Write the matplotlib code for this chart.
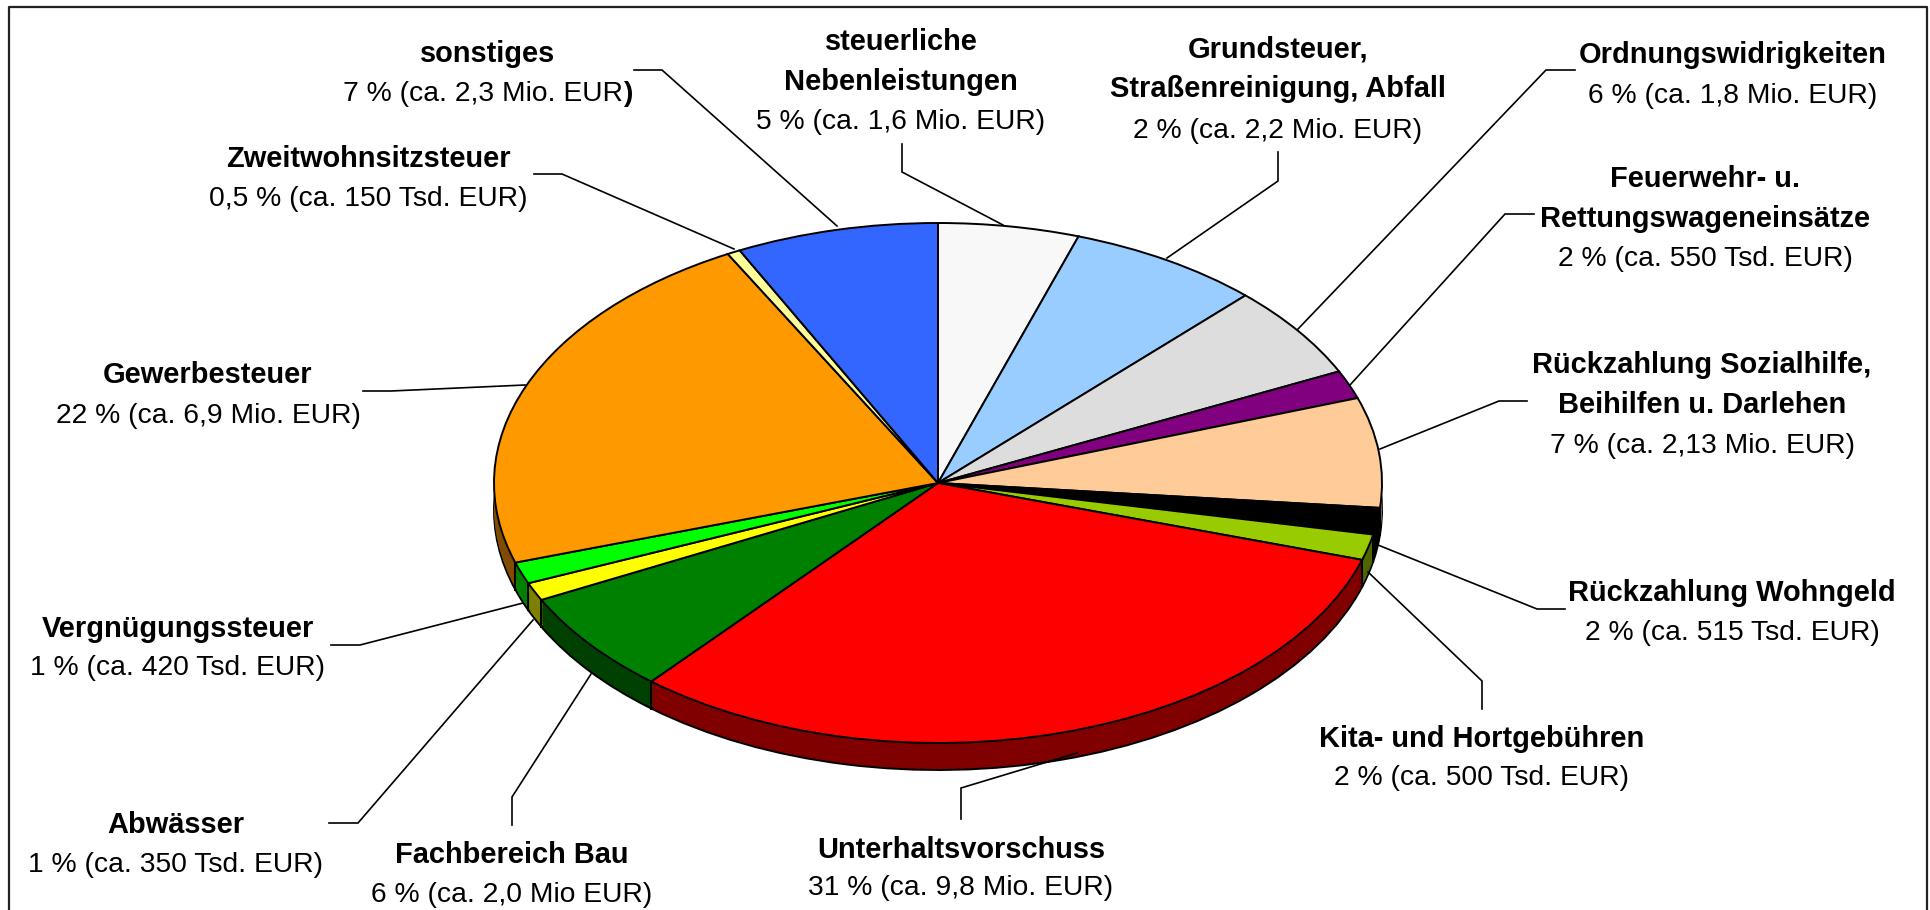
import numpy as np
import matplotlib
matplotlib.use("Agg")
import matplotlib.pyplot as plt

plt.rcParams['font.family'] = ['Liberation Sans', 'DejaVu Sans']

#----------Data-------------
names = ["steuerliche\nNebenleistungen", "Grundsteuer,\nStraßenreinigung, Abfall",
         "Ordnungswidrigkeiten", "Feuerwehr- u.\nRettungswageneinsätze",
         "Rückzahlung Sozialhilfe,\nBeihilfen u. Darlehen", "Rückzahlung Wohngeld",
         "Kita- und Hortgebühren", "Unterhaltsvorschuss", "Fachbereich Bau",
         "Abwässer", "Vergnügungssteuer", "Gewerbesteuer",
         "Zweitwohnsitzsteuer", "sonstiges"]
amounts = ["5 % (ca. 1,6 Mio. EUR)", "2 % (ca. 2,2 Mio. EUR)", "6 % (ca. 1,8 Mio. EUR)",
           "2 % (ca. 550 Tsd. EUR)", "7 % (ca. 2,13 Mio. EUR)", "2 % (ca. 515 Tsd. EUR)",
           "2 % (ca. 500 Tsd. EUR)", "31 % (ca. 9,8 Mio. EUR)", "6 % (ca. 2,0 Mio EUR)",
           "1 % (ca. 350 Tsd. EUR)", "1 % (ca. 420 Tsd. EUR)", "22 % (ca. 6,9 Mio. EUR)",
           "0,5 % (ca. 150 Tsd. EUR)", "7 % (ca. 2,3 Mio. EUR"]
values = [1.6, 2.2, 1.8, 0.55, 2.13, 0.515, 0.5, 9.8, 2.0, 0.35, 0.42, 6.9, 0.15, 2.3]

#----------Styles and layout (pixels of the 1930x910 picture)-------------
colours = ['#F8F8F8', '#99CCFF', '#DDDDDD', '#800080', '#FFCC99', '#000000', '#99CC00',
           '#FF0000', '#008000', '#FFFF00', '#00FF00', '#FF9900', '#FFFF99', '#3366FF']
side_colours = ['#7C7C7C', '#4D6680', '#6E6E6E', '#400040', '#80664D', '#000000', '#4D6600',
                '#800000', '#004000', '#808000', '#008000', '#804D00', '#80804D', '#1A3380']
cx, cy, rx, ry, depth = 938, 483, 444, 260, 27
W, H = 1930, 910

text_x = [901, 1278, 1733, 1705, 1702, 1732, 1482, 961, 512, 176, 178, 208, 368, 488]
text_y = [[42, 82, 122], [49, 89, 131], [55, 96], [179, 219, 259], [365, 405, 446],
          [593, 633], [739, 778], [850, 888], [855, 895], [825, 865], [629, 668],
          [375, 416], [159, 199], [54, 94]]
leaders = [[(902, 144), (902, 172), (1003, 225)],
           [(1278, 152), (1278, 181), (1167, 258)],
           [(1575, 70), (1546, 70), (1298, 329)],
           [(1534, 214), (1505, 214), (1350, 385)],
           [(1527, 401), (1499, 401), (1380, 449)],
           [(1565, 609), (1537, 609), (1378, 545)],
           [(1482, 709), (1482, 681), (1368, 572)],
           [(961, 819), (961, 788), (1077, 753)],
           [(512, 825), (512, 797), (591, 674)],
           [(329, 823), (358, 823), (533, 620)],
           [(331, 645), (360, 645), (523, 603)],
           [(363, 391), (391, 391), (525, 385)],
           [(534, 174), (562, 174), (734, 249)],
           [(634, 70), (662, 70), (837, 226)]]
FS = 20.3
FS_BOLD = 20.9

#----------Figure-------------
fig = plt.figure(figsize=(W / 100, H / 100), dpi=100, facecolor='white')

ax = fig.add_axes([(cx - rx) / W, 1 - (cy + ry) / H, 2 * rx / W, 2 * ry / H])
d = depth / ry
# side wall: stacked copies of the pie, the lowest one with the outline
ax.pie(values, colors=side_colours, startangle=90, counterclock=False, radius=1,
       center=(0, -d), wedgeprops=dict(edgecolor='black', linewidth=1.4), frame=True)
for k in np.linspace(d, 0, 14)[1:]:
    ax.pie(values, colors=side_colours, startangle=90, counterclock=False, radius=1,
           center=(0, -k), wedgeprops=dict(edgecolor='none', linewidth=0), frame=True)
wedges, _ = ax.pie(values, colors=colours, startangle=90, counterclock=False, radius=1,
                   wedgeprops=dict(edgecolor='black', linewidth=1.4), frame=True)
for w in wedges:
    for th in (w.theta1, w.theta2):
        if np.sin(np.radians(th)) < 0:
            px, py = np.cos(np.radians(th)), np.sin(np.radians(th))
            ax.plot([px, px], [py, py - d], color='black', lw=1.3, zorder=5, clip_on=False)
ax.set_aspect('auto')
ax.set_xlim(-1, 1)
ax.set_ylim(-1, 1)
ax.set_axis_off()
for p in ax.patches:
    p.set_clip_on(False)

# overlay in pixel coordinates for frame, leaders and labels
ov = fig.add_axes([0, 0, 1, 1], facecolor='none')
ov.set_xlim(0, W)
ov.set_ylim(H, 0)
ov.set_axis_off()
ov.plot([9, 9, 1927, 1927], [H + 5, 7, 7, H + 5], color='#222222', lw=1.6, clip_on=False)

for pts in leaders:
    xs, ys = zip(*pts)
    ov.plot(xs, ys, color='black', lw=1.2, solid_joinstyle='miter')

for name, amount, x, ys in zip(names, amounts, text_x, text_y):
    lines = name.split("\n")
    for line, y in zip(lines, ys):
        ov.text(x, y, line, ha='center', va='center', fontsize=FS_BOLD, fontweight='bold', color='black')
    if name == "sonstiges":
        # closing bracket is bold in the original
        ov.text(623, ys[-1], amount, ha='right', va='center', fontsize=FS, color='black')
        ov.text(623, ys[-1], ")", ha='left', va='center', fontsize=FS, fontweight='bold', color='black')
    else:
        ov.text(x, ys[-1], amount, ha='center', va='center', fontsize=FS, color='black')

fig.savefig("out.png", dpi=100, facecolor='white')
